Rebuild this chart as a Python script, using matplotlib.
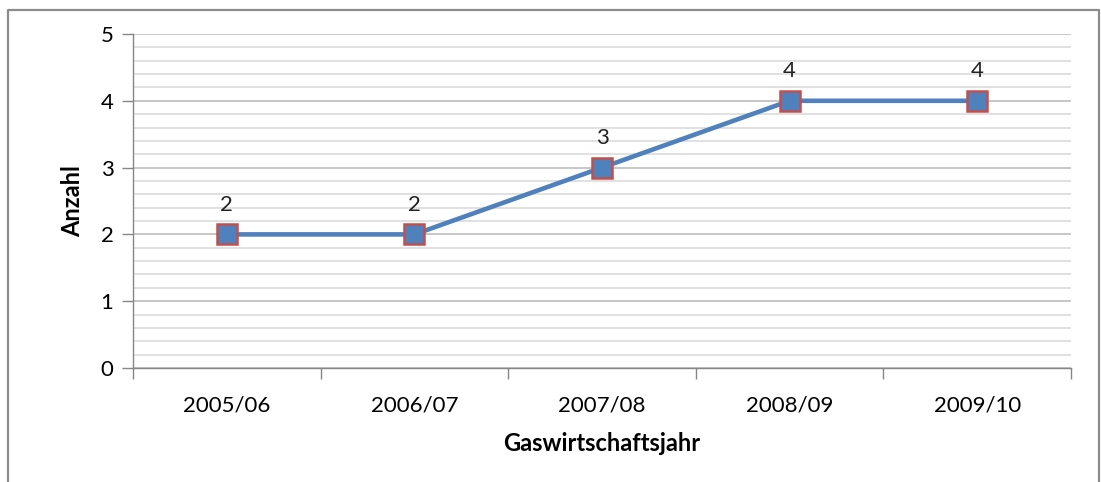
import matplotlib.pyplot as plt
from matplotlib.lines import Line2D
from matplotlib.ticker import MultipleLocator

# data
jahre = ['2005/06', '2006/07', '2007/08', '2008/09', '2009/10']
anzahl = [2, 2, 3, 4, 4]

plt.rcParams['font.family'] = ['Lato', 'DejaVu Sans']

fig = plt.figure(figsize=(11.01, 4.82), dpi=100)
ax = fig.add_axes([133 / 1101, 1 - 368 / 482, (1071 - 133) / 1101, (368 - 34) / 482])

x = list(range(len(jahre)))
ax.plot(x, anzahl, color='#4F81BD', lw=3.3, marker='s', markersize=14,
        markerfacecolor='#4F81BD', markeredgecolor='#C0504D', markeredgewidth=1.8, zorder=5)
for xi, v in zip(x, anzahl):
    ax.annotate(str(v), (xi, v), xytext=(0, 14), textcoords='offset points',
                ha='center', va='bottom', fontsize=16, color='#222222')

ax.set_xlim(-0.5, len(jahre) - 0.5)
ax.set_ylim(0, 5)
ax.yaxis.set_major_locator(MultipleLocator(1))
ax.yaxis.set_minor_locator(MultipleLocator(0.2))
ax.grid(True, which='major', axis='y', color='#BEBEBE', lw=1.2)
ax.grid(True, which='minor', axis='y', color='#DCDCDC', lw=1.2)
ax.set_axisbelow(True)

# category ticks sit between the labels
ax.set_xticks([i - 0.5 for i in range(len(jahre) + 1)])
ax.set_xticklabels([])
ax.set_xticks(x, minor=True)
ax.set_xticklabels(jahre, minor=True, fontsize=16)
ax.tick_params(axis='x', which='minor', length=0, pad=20)
ax.tick_params(axis='x', which='major', length=8, color='#868686', width=1)
ax.tick_params(axis='y', which='major', length=8, color='#868686', width=1, labelsize=16, pad=6)
ax.tick_params(axis='y', which='minor', length=0)

for s in ['top', 'right']:
    ax.spines[s].set_visible(False)
for s in ['left', 'bottom']:
    ax.spines[s].set_color('#868686')
    ax.spines[s].set_linewidth(1)

ax.set_ylabel('Anzahl', fontsize=17, fontweight='bold', labelpad=12)
ax.set_xlabel('Gaswirtschaftsjahr', fontsize=17, fontweight='bold', labelpad=12)

# outer frame (no bottom edge)
W, H = 1101, 482
fig.add_artist(Line2D([8 / W, 8 / W, 1099 / W, 1099 / W], [0, 1 - 10 / H, 1 - 10 / H, 0],
                      transform=fig.transFigure, color='#8C8C8C', lw=1.6))

fig.savefig('out.png', dpi=100)
